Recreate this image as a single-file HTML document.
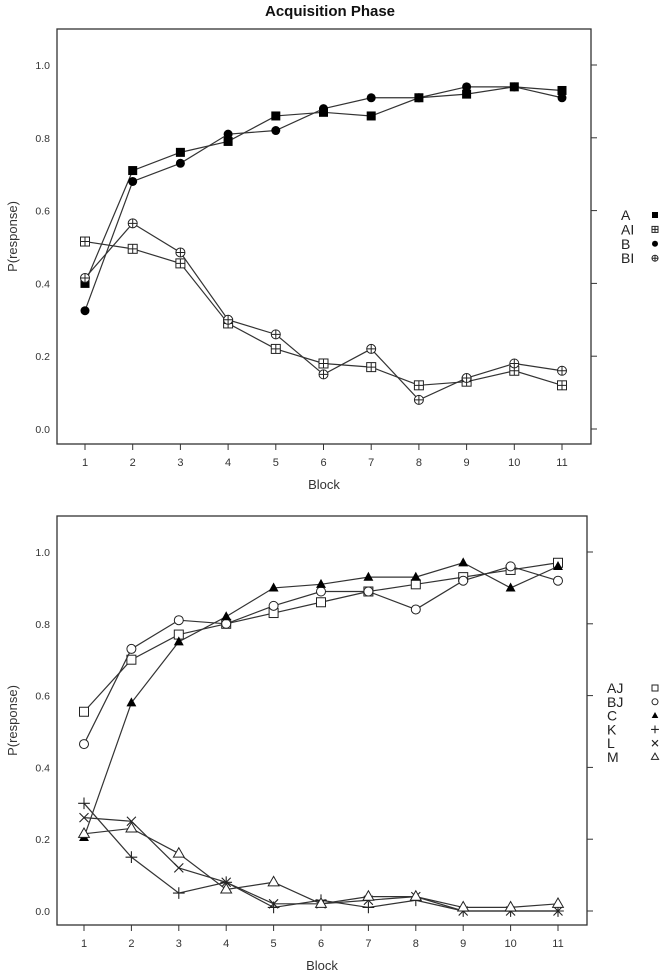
<!DOCTYPE html>
<html><head><meta charset="utf-8"><style>
body{margin:0;background:#fff}
svg{display:block;font-family:"Liberation Sans",sans-serif}
</style></head><body>
<svg id="c" width="662" height="975" viewBox="0 0 662 975">
<text x="330" y="16" text-anchor="middle" font-weight="bold" font-size="15" fill="#111">Acquisition Phase</text>
</svg>
<script>
const blocks=[1,2,3,4,5,6,7,8,9,10,11];
const yTicks=[0,0.2,0.4,0.6,0.8,1.0];
const yTickLabels=["0.0","0.2","0.4","0.6","0.8","1.0"];
const topNames=["A","AI","B","BI"];
const topSyms=["fsquare","psquare","fcircle","pcircle"];
const topA=[0.40,0.71,0.76,0.79,0.86,0.87,0.86,0.91,0.92,0.94,0.93];
const topAI=[0.515,0.495,0.455,0.29,0.22,0.18,0.17,0.12,0.13,0.16,0.12];
const topB=[0.325,0.68,0.73,0.81,0.82,0.88,0.91,0.91,0.94,0.94,0.91];
const topBI=[0.415,0.565,0.485,0.30,0.26,0.15,0.22,0.08,0.14,0.18,0.16];
const botNames=["AJ","BJ","C","K","L","M"];
const botSyms=["square","circle","ftri","plus","cross","tri"];
const botAJ=[0.555,0.70,0.77,0.80,0.83,0.86,0.89,0.91,0.93,0.95,0.97];
const botBJ=[0.465,0.73,0.81,0.80,0.85,0.89,0.89,0.84,0.92,0.96,0.92];
const botC=[0.205,0.58,0.75,0.82,0.90,0.91,0.93,0.93,0.97,0.90,0.96];
const botK=[0.30,0.15,0.05,0.08,0.01,0.03,0.01,0.03,0,0,0];
const botL=[0.26,0.25,0.12,0.08,0.02,0.02,0.03,0.04,0,0,0];
const botM=[0.215,0.23,0.16,0.06,0.08,0.02,0.04,0.04,0.01,0.01,0.02];

const NS="http://www.w3.org/2000/svg";
const svg=document.getElementById('c');
function mk(tag,attrs,parent){const e=document.createElementNS(NS,tag);for(const k in attrs)e.setAttribute(k,attrs[k]);(parent||svg).appendChild(e);return e;}
function sym(g,type,x,y,r){
  const st={stroke:"#222","stroke-width":1,fill:"#fff"};
  if(type==="fsquare")mk('rect',{x:x-r,y:y-r,width:2*r,height:2*r,fill:"#000"},g);
  if(type==="square"||type==="psquare"){mk('rect',Object.assign({x:x-r,y:y-r,width:2*r,height:2*r},st),g);}
  if(type==="fcircle")mk('circle',{cx:x,cy:y,r:r,fill:"#000"},g);
  if(type==="circle"||type==="pcircle")mk('circle',Object.assign({cx:x,cy:y,r:r},st),g);
  if(type==="psquare"||type==="pcircle"){mk('path',{d:`M${x-r} ${y}H${x+r}M${x} ${y-r}V${y+r}`,stroke:"#222","stroke-width":1},g);}
  if(type==="ftri")mk('path',{d:`M${x} ${y-r*1.2}L${x+r*1.1} ${y+r*0.8}L${x-r*1.1} ${y+r*0.8}Z`,fill:"#000"},g);
  if(type==="tri")mk('path',Object.assign({d:`M${x} ${y-r*1.3}L${x+r*1.2} ${y+r*0.8}L${x-r*1.2} ${y+r*0.8}Z`},st),g);
  if(type==="plus")mk('path',{d:`M${x-r*1.3} ${y}H${x+r*1.3}M${x} ${y-r*1.3}V${y+r*1.3}`,stroke:"#222","stroke-width":1.1},g);
  if(type==="cross")mk('path',{d:`M${x-r} ${y-r}L${x+r} ${y+r}M${x+r} ${y-r}L${x-r} ${y+r}`,stroke:"#222","stroke-width":1.1},g);
}
function panel(P,names,syms,series,legY,legX,prefix){
  const xs=b=>P.x1+(b-1)*(P.x11-P.x1)/10;
  const ys=v=>P.y0+v*(P.y1-P.y0);
  const g=mk('g',{});
  
  
  const box=mk('rect',{x:P.L,y:P.T,width:P.R-P.L,height:P.B-P.T,fill:"none",stroke:"#333","stroke-width":1.3},g);
  
  
  blocks.forEach(b=>{
    mk('line',{x1:xs(b),x2:xs(b),y1:P.B,y2:P.B+6,stroke:"#333"},g);
    const t=mk('text',{x:xs(b),y:P.B+22,"text-anchor":"middle","font-size":11,fill:"#333"},g);
    t.textContent=b;
    
    
  });
  yTicks.forEach((v,i)=>{
    mk('line',{x1:P.R,x2:P.R+6,y1:ys(v),y2:ys(v),stroke:"#333"},g);
    const t=mk('text',{x:P.L-7,y:ys(v)+4,"text-anchor":"end","font-size":10.5,fill:"#333"},g);
    t.textContent=yTickLabels[i];
    
    
  });
  const xt=mk('text',{x:(P.L+P.R)/2,y:P.B+45,"text-anchor":"middle","font-size":13,fill:"#333"},g);
  xt.textContent="Block";
  
  
  const cy=(P.T+P.B)/2;
  const yt=mk('text',{x:0,y:0,transform:`translate(17,${cy}) rotate(-90)`,"text-anchor":"middle","font-size":13,fill:"#333"},g);
  yt.textContent="P(response)";
  
  
  series.forEach((vals,si)=>{
    const sg=mk('g',{},g);
    
    
    mk('polyline',{points:vals.map((v,i)=>xs(blocks[i])+","+ys(v)).join(" "),fill:"none",stroke:"#333","stroke-width":1.2},sg);
    vals.forEach((v,i)=>sym(sg,syms[si],xs(blocks[i]),ys(v),4.5));
  });
  names.forEach((n,i)=>{
    const lg=mk('g',{},g);
    
    
    const t=mk('text',{x:legX,y:legY[0]+i*legY[1]+5,"font-size":14,fill:"#222"},lg);
    t.textContent=n;
    sym(lg,syms[i],655,legY[0]+i*legY[1],3);
  });
}
panel({L:57,R:591,T:29,B:444,x1:85,x11:562,y0:429,y1:65},topNames,topSyms,[topA,topAI,topB,topBI],[215,14.4],621,'top');
panel({L:57,R:587,T:516,B:925,x1:84,x11:558,y0:911,y1:552},botNames,botSyms,[botAJ,botBJ,botC,botK,botL,botM],[688,13.8],607,'bottom');
</script>
</body></html>
